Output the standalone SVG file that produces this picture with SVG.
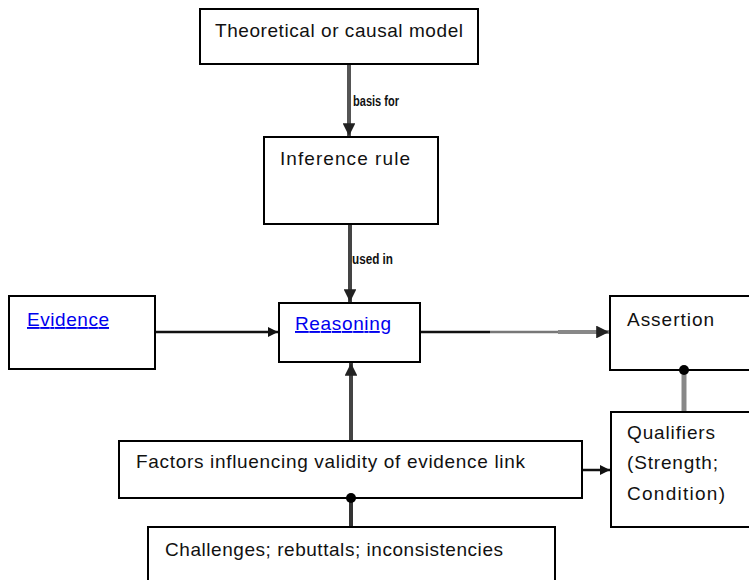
<svg xmlns="http://www.w3.org/2000/svg" width="749" height="580" viewBox="0 0 749 580">
<style>
.box{fill:#fff;stroke:#000;stroke-width:2}
.t{font-family:"Liberation Sans",Arial,sans-serif;font-size:19px;fill:#111}
.link{fill:#00e;text-decoration:underline}
.lbl{font-family:"Liberation Sans",Arial,sans-serif;font-size:14px;font-weight:bold;fill:#111}
</style>
<defs>
<marker id="ah" viewBox="0 0 10 10" refX="10" refY="5" markerWidth="4" markerHeight="4" orient="auto" markerUnits="strokeWidth">
<path d="M0,0 L10,5 L0,10 Z" fill="#111"/>
</marker>
<marker id="ah2" viewBox="0 0 10 10" refX="10" refY="5" markerWidth="3.2" markerHeight="3.2" orient="auto" markerUnits="strokeWidth">
<path d="M0,0 L10,5 L0,10 Z" fill="#222"/>
</marker>
</defs>
<rect width="749" height="580" fill="#fff"/>
<g id="theoretical">
<rect class="box" x="200" y="9" width="278" height="55"/>
<text class="t" x="215" y="37" textLength="248">Theoretical or causal model</text>
</g>
<g id="inference">
<rect class="box" x="264" y="137" width="174" height="87"/>
<text class="t" x="280" y="165" textLength="130">Inference rule</text>
</g>
<g id="evidence">
<rect class="box" x="9" y="296" width="146" height="73"/>
<text class="t link" x="27" y="326" textLength="82">Evidence</text>
</g>
<g id="reasoning">
<rect class="box" x="279" y="303" width="141" height="59"/>
<text class="t link" x="295" y="330" textLength="96">Reasoning</text>
</g>
<g id="assertion">
<rect class="box" x="610" y="296" width="145" height="74"/>
<text class="t" x="627" y="326" textLength="87">Assertion</text>
</g>
<g id="qualifiers">
<rect class="box" x="611" y="412" width="145" height="115"/>
<text class="t" x="627" y="439" textLength="88">Qualifiers</text>
<text class="t" x="627" y="469" textLength="91">(Strength;</text>
<text class="t" x="627" y="500" textLength="98">Condition)</text>
</g>
<g id="factors">
<rect class="box" x="119" y="441" width="463" height="57"/>
<text class="t" x="136" y="468" textLength="389">Factors influencing validity of evidence link</text>
</g>
<g id="challenges">
<rect class="box" x="148" y="527" width="407" height="60"/>
<text class="t" x="165" y="556" textLength="338">Challenges; rebuttals; inconsistencies</text>
</g>
<g id="connectors">
<line x1="349" y1="65" x2="349" y2="136" stroke="#555" stroke-width="4" marker-end="url(#ah2)"/>
<text class="lbl" x="353" y="106" textLength="46" lengthAdjust="spacingAndGlyphs">basis for</text>
<line x1="350" y1="225" x2="350" y2="302" stroke="#444" stroke-width="4" marker-end="url(#ah2)"/>
<text class="lbl" x="352" y="264" textLength="41" lengthAdjust="spacingAndGlyphs">used in</text>
<line x1="156" y1="332" x2="278" y2="332" stroke="#111" stroke-width="2.5" marker-end="url(#ah)"/>
<line x1="421" y1="332" x2="490" y2="332" stroke="#111" stroke-width="2.5"/>
<line x1="490" y1="332" x2="558" y2="332" stroke="#777" stroke-width="2.5"/>
<line x1="558" y1="332" x2="609" y2="332" stroke="#888" stroke-width="4" marker-end="url(#ah2)"/>
<line x1="351" y1="440" x2="351" y2="363" stroke="#444" stroke-width="4" marker-end="url(#ah2)"/>
<line x1="583" y1="470" x2="610" y2="470" stroke="#111" stroke-width="2.5" marker-end="url(#ah)"/>
<line x1="684" y1="371" x2="684" y2="411" stroke="#888" stroke-width="5"/>
<circle cx="684" cy="370" r="5" fill="#000"/>
<line x1="351" y1="499" x2="351" y2="526" stroke="#333" stroke-width="4"/>
<circle cx="351" cy="498" r="5" fill="#000"/>
</g>
</svg>
